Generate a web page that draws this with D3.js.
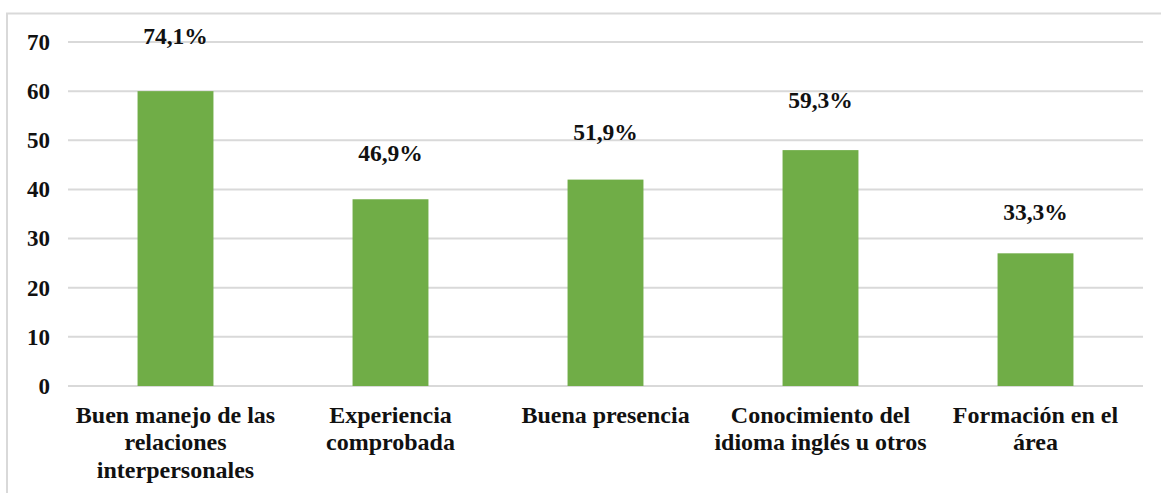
<!DOCTYPE html>
<html>
<head>
<meta charset="utf-8">
<script src="https://cdn.jsdelivr.net/npm/d3@7"></script>
<style>
  body { margin: 0; background: #fff; }
</style>
</head>
<body>
<div id="chart"></div>
<script>
// Chart data
var categories = [
  ["Buen manejo de las", "relaciones", "interpersonales"],
  ["Experiencia", "comprobada"],
  ["Buena presencia"],
  ["Conocimiento del", "idioma inglés u otros"],
  ["Formación en el", "área"]
];
var counts = [60, 38, 42, 48, 27];
var percentLabels = ["74,1%", "46,9%", "51,9%", "59,3%", "33,3%"];
var yTicks = [0, 10, 20, 30, 40, 50, 60, 70];

var FONT = "Liberation Serif";

var svgWidth = 1161;
var svgHeight = 493;

var margin = { top: 42, right: 18, bottom: 107, left: 68 };
var chartWidth = svgWidth - margin.left - margin.right;
var chartHeight = svgHeight - margin.top - margin.bottom;

var svg = d3.select("#chart")
  .append("svg")
  .attr("width", svgWidth)
  .attr("height", svgHeight);

// outer frame (only top and left edges are visible)
svg.append("rect")
  .attr("x", 7)
  .attr("y", 13.5)
  .attr("width", svgWidth + 20)
  .attr("height", svgHeight + 20)
  .attr("fill", "none")
  .attr("stroke", "#d9d9d9")
  .attr("stroke-width", 2);

var chartGroup = svg.append("g")
  .attr("transform", `translate(${margin.left}, ${margin.top})`);

var idx = d3.range(categories.length);

var xBandScale = d3.scaleBand()
  .domain(idx)
  .range([0, chartWidth])
  .paddingInner(0.647)
  .paddingOuter(0.3235);

var yLinearScale = d3.scaleLinear()
  .domain([0, 70])
  .range([chartHeight, 0]);

// gridlines
chartGroup.selectAll(".grid")
  .data(yTicks)
  .enter()
  .append("line")
  .attr("class", "grid")
  .attr("x1", 0)
  .attr("x2", chartWidth)
  .attr("y1", d => yLinearScale(d))
  .attr("y2", d => yLinearScale(d))
  .attr("stroke", "#d9d9d9")
  .attr("stroke-width", 2);

// y axis labels
var leftAxis = d3.axisLeft(yLinearScale).tickValues(yTicks).tickSize(0).tickPadding(18);
var yAxisG = chartGroup.append("g")
  .attr("font-family", FONT)
  .call(leftAxis);
yAxisG.attr("font-family", FONT).attr("font-size", 23).attr("font-weight", "bold");
yAxisG.select(".domain").remove();
yAxisG.selectAll("text").attr("fill", "#111");

// bars
chartGroup.selectAll(".bar")
  .data(idx)
  .enter()
  .append("rect")
  .attr("class", "bar")
  .attr("x", i => xBandScale(i))
  .attr("y", i => yLinearScale(counts[i]))
  .attr("width", xBandScale.bandwidth())
  .attr("height", i => chartHeight - yLinearScale(counts[i]))
  .attr("fill", "#70ad47");

// value labels (placed a bit higher for taller bars, like the original)
chartGroup.selectAll(".val")
  .data(idx)
  .enter()
  .append("text")
  .attr("class", "val")
  .attr("x", i => xBandScale(i) + xBandScale.bandwidth() / 2)
  .attr("y", i => yLinearScale(counts[i] * 1.082 + 4.6))
  .attr("text-anchor", "middle")
  .attr("font-family", FONT)
  .attr("font-weight", "bold")
  .attr("font-size", 23.5)
  .attr("fill", "#111")
  .text(i => percentLabels[i]);

// category labels
var catG = chartGroup.selectAll(".cat")
  .data(idx)
  .enter()
  .append("text")
  .attr("class", "cat")
  .attr("text-anchor", "middle")
  .attr("transform", i => `translate(${xBandScale(i) + xBandScale.bandwidth() / 2}, ${chartHeight + 36.5})`)
  .attr("font-family", FONT)
  .attr("font-weight", "bold")
  .attr("font-size", 24)
  .attr("fill", "#111");

catG.selectAll("tspan")
  .data(i => categories[i])
  .enter()
  .append("tspan")
  .attr("x", 0)
  .attr("y", (d, j) => j * 27.5)
  .text(d => d);
</script>
</body>
</html>
